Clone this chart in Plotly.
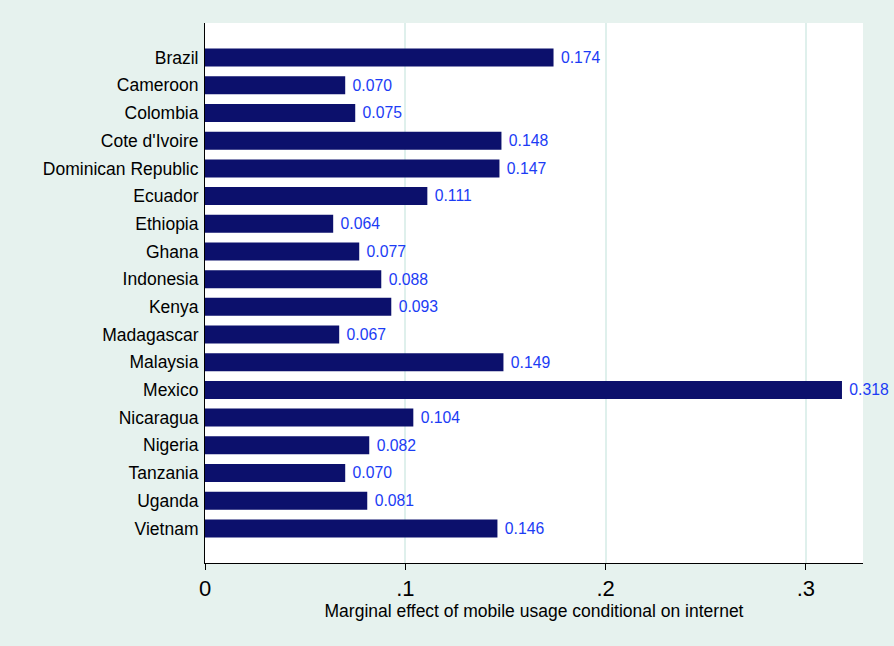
import plotly.graph_objects as go

countries = ["Brazil", "Cameroon", "Colombia", "Cote d'Ivoire", "Dominican Republic",
             "Ecuador", "Ethiopia", "Ghana", "Indonesia", "Kenya", "Madagascar",
             "Malaysia", "Mexico", "Nicaragua", "Nigeria", "Tanzania", "Uganda", "Vietnam"]
values = [0.174, 0.070, 0.075, 0.148, 0.147, 0.111, 0.064, 0.077, 0.088, 0.093,
          0.067, 0.149, 0.318, 0.104, 0.082, 0.070, 0.081, 0.146]
x_ticks = [0, 0.1, 0.2, 0.3]
x_ticklabels = ["0", ".1", ".2", ".3"]

bg = "#e6f2ee"
fig = go.Figure(go.Bar(
    y=countries, x=values, orientation="h",
    marker=dict(color="#0c106c", line=dict(width=0)),
    text=[f" {v:.3f}" for v in values], textposition="outside",
    textfont=dict(color="#1c3cf5", size=17.5, family="Liberation Sans, Arial"),
    cliponaxis=False,
))
n = len(countries)
fig.update_layout(
    width=894, height=646,
    paper_bgcolor=bg, plot_bgcolor="white",
    margin=dict(l=205, r=31, t=23, b=83),
    bargap=0.35, showlegend=False,
    font=dict(family="Liberation Sans, Arial", color="black"),
    uniformtext=dict(mode=False),
    xaxis=dict(range=[0, 0.3285], tickvals=x_ticks, ticktext=x_ticklabels,
               tickfont=dict(size=22), ticks="outside", ticklen=6, tickcolor="black",
               showline=True, linecolor="black", linewidth=1,
               showgrid=True, gridcolor="#dff0ec", gridwidth=1.5, zeroline=False,
               title=dict(text="Marginal effect of mobile usage conditional on internet",
                          font=dict(size=17.5), standoff=2)),
    yaxis=dict(type="category", range=[n - 1 + 1.25, -1.25],
               tickfont=dict(size=17.5), ticks="", showline=True, linecolor="black",
               linewidth=1, showgrid=False, ticklabelstandoff=2),
)
fig.write_html("out.html", config={"displayModeBar": False},
               post_script="document.body.style.margin='0';document.body.style.padding='0';document.body.style.overflow='hidden';")
